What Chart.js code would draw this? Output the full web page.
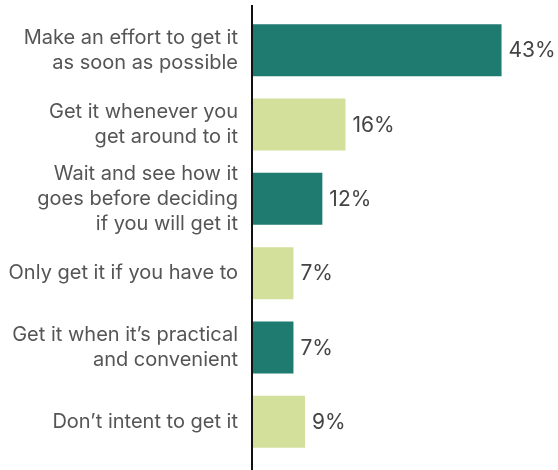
<!DOCTYPE html>
<html>
<head>
<meta charset="utf-8">
<script src="https://cdn.jsdelivr.net/npm/chart.js@4"></script>
<style>
  html, body { margin: 0; padding: 0; background: #ffffff; }
  #wrap { width: 558px; height: 470px; }
</style>
</head>
<body>
<div id="wrap"><canvas id="c" width="558" height="470"></canvas></div>
<script>
// Survey answers (each entry is one wrapped label)
const categories = [
  ["Make an effort to get it", "as soon as possible"],
  ["Get it whenever you", "get around to it"],
  ["Wait and see how it", "goes before deciding", "if you will get it"],
  ["Only get it if you have to"],
  ["Get it when it\u2019s practical", "and convenient"],
  ["Don\u2019t intent to get it"]
];
const shares = [43, 16, 12, 7, 7, 9];
const barColors = ["#1f7a70", "#d3e09c", "#1f7a70", "#d3e09c", "#1f7a70", "#d3e09c"];

const FONT = "Inter, 'Liberation Sans', sans-serif";

// Percent label to the right of each bar
const valueLabels = {
  id: 'valueLabels',
  afterDatasetsDraw(chart) {
    const ctx = chart.ctx;
    const meta = chart.getDatasetMeta(0);
    ctx.save();
    ctx.font = "21px " + FONT;
    ctx.fillStyle = "#444444";
    ctx.textAlign = "left";
    ctx.textBaseline = "middle";
    meta.data.forEach((bar, i) => {
      ctx.fillText(shares[i] + "%", bar.x + 7, bar.y + 1);
    });
    ctx.restore();
  }
};

// Vertical baseline running the full height of the plot
const baseline = {
  id: 'baseline',
  afterDatasetsDraw(chart) {
    const ctx = chart.ctx;
    const x = chart.scales.x.getPixelForValue(0);
    ctx.save();
    ctx.strokeStyle = "#111111";
    ctx.lineWidth = 2;
    ctx.beginPath();
    ctx.moveTo(x - 1, 5);
    ctx.lineTo(x - 1, chart.height);
    ctx.stroke();
    ctx.restore();
  }
};

new Chart(document.getElementById('c'), {
  type: 'bar',
  data: {
    labels: categories,
    datasets: [{
      data: shares,
      backgroundColor: barColors,
      borderWidth: 0,
      categoryPercentage: 1,
      barPercentage: 0.7
    }]
  },
  options: {
    indexAxis: 'y',
    responsive: false,
    animation: false,
    layout: { padding: { top: 13, bottom: 11, left: 0, right: 16 } },
    plugins: {
      legend: { display: false },
      tooltip: { enabled: false }
    },
    scales: {
      x: {
        min: 0,
        max: 50,
        display: false
      },
      y: {
        grid: { display: false, drawTicks: false },
        border: { display: false },
        ticks: {
          autoSkip: false,
          color: "#555555",
          padding: 15,
          font: { family: FONT, size: 20, lineHeight: 1.25 }
        },
        afterFit(scale) {
          scale.width = 253;
          scale.paddingTop = 0;
          scale.paddingBottom = 0;
        }
      }
    }
  },
  plugins: [valueLabels, baseline]
});
</script>
</body>
</html>
